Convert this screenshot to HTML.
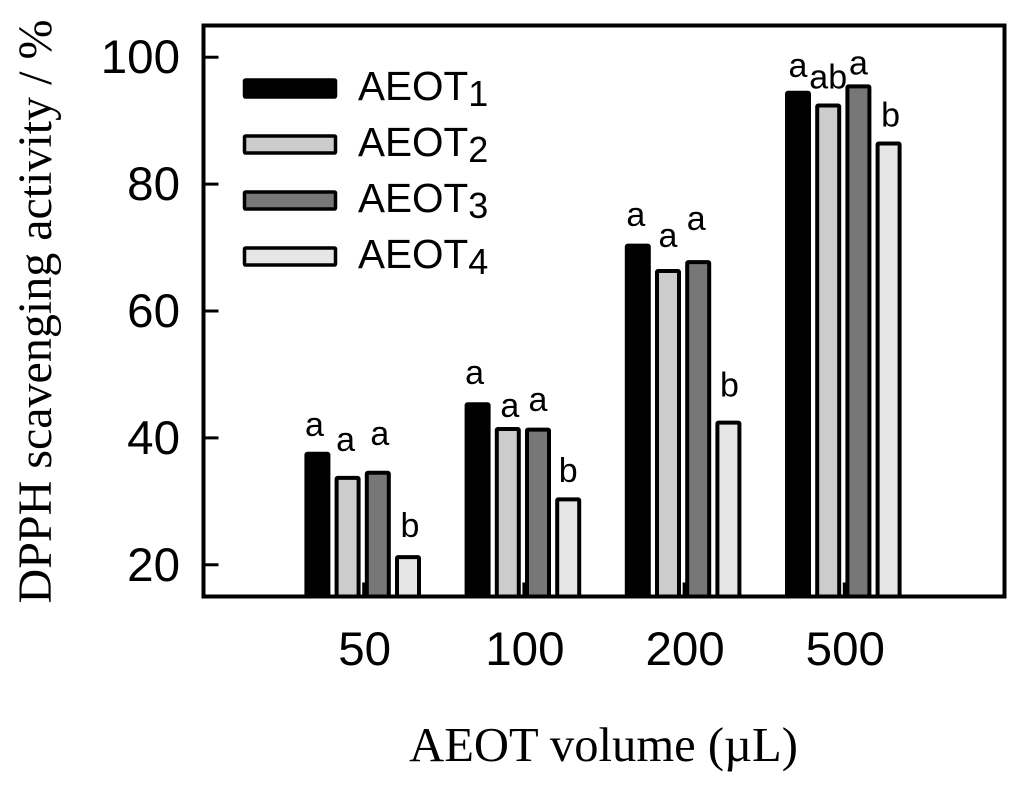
<!DOCTYPE html>
<html>
<head>
<meta charset="utf-8">
<style>
html,body{margin:0;padding:0;background:#fff;width:1024px;height:789px;overflow:hidden}
svg{display:block}
text{fill:#000}
.sans{font-family:"Liberation Sans",sans-serif}
.serif{font-family:"Liberation Serif",serif}
</style>
</head>
<body>
<svg id="chart" width="1024" height="789" viewBox="0 0 1024 789" xmlns="http://www.w3.org/2000/svg"></svg>
<script>
const categories = ["50", "100", "200", "500"];
const seriesNames = ["AEOT1", "AEOT2", "AEOT3", "AEOT4"];
const seriesAeot1 = [37.5, 45.3, 70.3, 94.4];
const seriesAeot2 = [33.7, 41.4, 66.3, 92.4];
const seriesAeot3 = [34.5, 41.3, 67.7, 95.4];
const seriesAeot4 = [21.2, 30.3, 42.4, 86.4];
const lettersAeot1 = ["a", "a", "a", "a"];
const lettersAeot2 = ["a", "a", "a", "ab"];
const lettersAeot3 = ["a", "a", "a", "a"];
const lettersAeot4 = ["b", "b", "b", "b"];
const letterLevels1 = [40.3, 48.5, 73.4, 96.85];
const letterLevels2 = [37.95, 43.3, 70.1, 95.1];
const letterLevels3 = [38.9, 44.25, 72.75, 97.3];
const letterLevels4 = [24.4, 33.07, 46.5, 89.1];
const yTicks = [20, 40, 60, 80, 100];
const yMin = 15, yMax = 105;

const NS = "http://www.w3.org/2000/svg";
const svg = document.getElementById("chart");
const plot = {l: 203.5, r: 1004.5, t: 25.5, b: 596.5};
const seriesValues = [seriesAeot1, seriesAeot2, seriesAeot3, seriesAeot4];
const seriesLetters = [lettersAeot1, lettersAeot2, lettersAeot3, lettersAeot4];
const seriesLevels = [letterLevels1, letterLevels2, letterLevels3, letterLevels4];
const fills = ["#000000", "#cccccc", "#777777", "#e6e6e6"];

function yScale(v) { return plot.b - (v - yMin) / (yMax - yMin) * (plot.b - plot.t); }
function xScale(i) { return plot.l + (i + 1) / (categories.length + 1) * (plot.r - plot.l); }
function barX(i, s) { return xScale(i) + (s - 1.5) * 30.2 - 1; }
function letterShift(i, s) {
  return [[-3, -2, 2, 2], [-3, 2, 0, 0], [-2, 0, -2, 1], [0, 0, 0, 2]][i][s];
}

function make(tag, attrs, parent) {
  const el = document.createElementNS(NS, tag);
  for (const k in attrs) el.setAttribute(k, attrs[k]);
  (parent || svg).appendChild(el);
  return el;
}

categories.forEach(function (cat, i) {
  seriesValues.forEach(function (vals, s) {
    const cx = barX(i, s);
    const top = yScale(vals[i]);
    const bar = make("rect", {x: cx - 11, y: top, width: 22, height: plot.b - top, rx: 1, fill: fills[s], stroke: "#000", "stroke-width": 4});
    
    
    const letter = make("text", {x: cx + letterShift(i, s), y: yScale(seriesLevels[s][i]), "text-anchor": "middle", "font-size": 34, class: "sans"});
    
    
    letter.textContent = seriesLetters[s][i];
  });
  const tick = make("line", {x1: xScale(i), x2: xScale(i), y1: plot.b, y2: plot.b - 14, stroke: "#000", "stroke-width": 3});
  
  
  const lab = make("text", {x: xScale(i) + 1, y: 665, "text-anchor": "middle", "font-size": 47.5, class: "sans"});
  
  
  lab.textContent = cat;
});

yTicks.forEach(function (t) {
  const tick = make("line", {x1: plot.l, x2: plot.l + 15, y1: yScale(t), y2: yScale(t), stroke: "#000", "stroke-width": 3});
  
  
  const lab = make("text", {x: 180, y: yScale(t) + 16, "text-anchor": "end", "font-size": 47.5, class: "sans"});
  
  
  lab.textContent = t;
});

const frame = make("rect", {x: plot.l, y: plot.t, width: plot.r - plot.l, height: plot.b - plot.t, fill: "none", stroke: "#000", "stroke-width": 4});



seriesNames.forEach(function (name, s) {
  const rowY = 88 + s * 56;
  const swatch = make("rect", {x: 244.5, y: rowY - 8, width: 91, height: 17, rx: 1, fill: fills[s], stroke: "#000", "stroke-width": 3.5});
  
  
  const lab = make("text", {x: 358, y: rowY + 12, "font-size": 40.5, class: "sans"});
  
  
  const base = make("tspan", {}, lab);
  base.textContent = name.slice(0, 4);
  const sub = make("tspan", {dy: 6, "font-size": 36}, lab);
  sub.textContent = name.slice(4);
});

const xTitle = make("text", {x: 603.5, y: 761, "text-anchor": "middle", "font-size": 48.6, class: "serif"});


xTitle.textContent = "AEOT volume (µL)";

const yTitle = make("text", {x: 0, y: 0, transform: "translate(51,311.5) rotate(-90)", "text-anchor": "middle", "font-size": 48, class: "serif"});


yTitle.textContent = "DPPH scavenging activity / %";
</script>
</body>
</html>
